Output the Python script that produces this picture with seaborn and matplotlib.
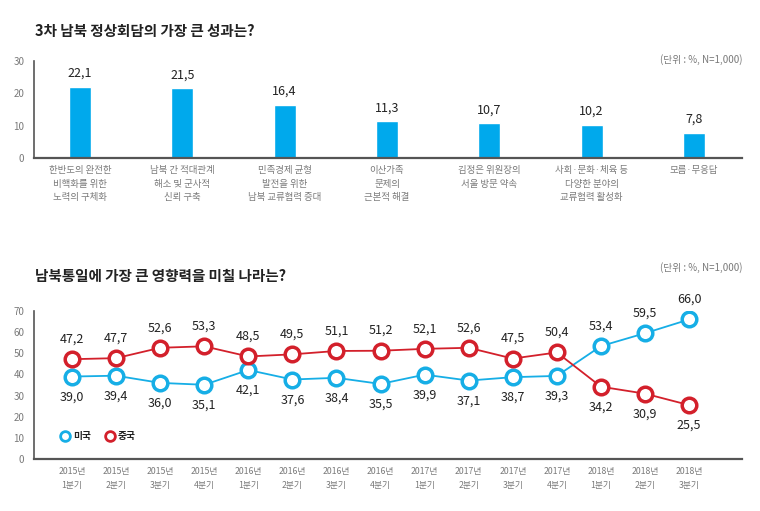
import matplotlib
matplotlib.use("Agg")
import matplotlib.pyplot as plt
import seaborn as sns
import pandas as pd
import numpy as np
from matplotlib.lines import Line2D

sns.set_theme(style="white")
plt.rcParams['font.family'] = ['Noto Sans CJK KR', 'DejaVu Sans']

# ---- data: top chart ----
top_title = "3차 남북 정상회담의 가장 큰 성과는?"
top_categories = [
    "한반도의 완전한\n비핵화를 위한\n노력의 구체화",
    "남북 간 적대관계\n해소 및 군사적\n신뢰 구축",
    "민족경제 균형\n발전을 위한\n남북 교류협력 증대",
    "이산가족\n문제의\n근본적 해결",
    "김정은 위원장의\n서울 방문 약속",
    "사회·문화·체육 등\n다양한 분야의\n교류협력 활성화",
    "모름·무응답",
]
top_values = [22.1, 21.5, 16.4, 11.3, 10.7, 10.2, 7.8]
top_yticks = [0, 10, 20, 30]

# ---- data: bottom chart ----
bottom_title = "남북통일에 가장 큰 영향력을 미칠 나라는?"
periods = ["2015년\n1분기", "2015년\n2분기", "2015년\n3분기", "2015년\n4분기",
           "2016년\n1분기", "2016년\n2분기", "2016년\n3분기", "2016년\n4분기",
           "2017년\n1분기", "2017년\n2분기", "2017년\n3분기", "2017년\n4분기",
           "2018년\n1분기", "2018년\n2분기", "2018년\n3분기"]
usa = [39.0, 39.4, 36.0, 35.1, 42.1, 37.6, 38.4, 35.5, 39.9, 37.1, 38.7, 39.3, 53.4, 59.5, 66.0]
china = [47.2, 47.7, 52.6, 53.3, 48.5, 49.5, 51.1, 51.2, 52.1, 52.6, 47.5, 50.4, 34.2, 30.9, 25.5]
bottom_yticks = [0, 10, 20, 30, 40, 50, 60, 70]
unit_text = "(단위 : %, N=1,000)"
series_names = ["미국", "중국"]

BAR_BLUE = "#00A9EC"
US_BLUE = "#16AEE6"
CN_RED = "#D3202B"
TICK_GRAY = "#7a7a7a"
TXT = "#222222"
SPINE = "#555555"

fig = plt.figure(figsize=(7.6, 5.11), dpi=100)

def fmt(v):
    return f"{v:.1f}".replace(".", ",")

# ---------------- top chart ----------------
ax1 = fig.add_axes([34/760, 1-158/511, (742-34)/760, (158-61)/511])
df_top = pd.DataFrame({"cat": top_categories, "val": top_values})
sns.barplot(data=df_top, x="cat", y="val", color=BAR_BLUE, width=0.215,
            saturation=1, ax=ax1)
ax1.set_xlim(-0.45, 6.47)
ax1.set_ylim(0, 30)
ax1.set_yticks(top_yticks)
ax1.set_xlabel("")
ax1.set_ylabel("")
for i, v in enumerate(top_values):
    ax1.annotate(fmt(v), (i, v), xytext=(0, 5), textcoords="offset points",
                 ha="center", va="bottom", fontsize=9, color=TXT)
ax1.set_xticks(range(len(top_categories)))
ax1.set_xticklabels(top_categories, fontsize=6.8, color=TICK_GRAY, linespacing=1.6, va="top")
ax1.tick_params(axis="x", length=0, pad=6)
ax1.tick_params(axis="y", length=0, pad=7, labelsize=7, labelcolor=TICK_GRAY)
for s in ["top", "right"]:
    ax1.spines[s].set_visible(False)
ax1.spines["left"].set_color(SPINE)
ax1.spines["left"].set_linewidth(1.2)
ax1.spines["bottom"].set_color(SPINE)
ax1.spines["bottom"].set_linewidth(1.6)

fig.text(35/760, 1-31/511, top_title, fontsize=10.5, fontweight="bold",
         color=TXT, va="center", ha="left")
fig.text(742/760, 1-60/511, unit_text, fontsize=7, color=TICK_GRAY,
         va="center", ha="right")

# ---------------- bottom chart ----------------
ax2 = fig.add_axes([34/760, 1-459/511, (742-34)/760, (459-311)/511])
idx = np.arange(len(periods))
df_b = pd.DataFrame({
    "idx": np.concatenate([idx, idx]),
    "val": usa + china,
    "country": [series_names[0]] * len(idx) + [series_names[1]] * len(idx),
})
sns.lineplot(data=df_b, x="idx", y="val", hue="country",
             palette={series_names[0]: US_BLUE, series_names[1]: CN_RED},
             marker="o", markersize=10.5, markerfacecolor="white",
             markeredgewidth=2.5, linewidth=1.3, legend=False, ax=ax2)
for line, col in zip(ax2.get_lines(), [US_BLUE, CN_RED]):
    line.set_markeredgecolor(col)

ax2.set_xlim(-0.862, 15.2)
ax2.set_ylim(0, 70)
ax2.set_yticks(bottom_yticks)
ax2.set_xticks(idx)
ax2.set_xticklabels(periods, fontsize=6.3, color=TICK_GRAY, linespacing=1.7)
ax2.tick_params(axis="x", length=0, pad=6)
ax2.tick_params(axis="y", length=0, pad=7, labelsize=7, labelcolor=TICK_GRAY)
ax2.set_xlabel("")
ax2.set_ylabel("")
for s in ["top", "right"]:
    ax2.spines[s].set_visible(False)
ax2.spines["left"].set_color(SPINE)
ax2.spines["left"].set_linewidth(1.2)
ax2.spines["bottom"].set_color(SPINE)
ax2.spines["bottom"].set_linewidth(1.6)

for i in idx:
    u, c = usa[i], china[i]
    u_off = 14.5 if u > c else -14.5
    c_off = 14.5 if c > u else -14.5
    ax2.annotate(fmt(u), (i, u), xytext=(0, u_off), textcoords="offset points",
                 ha="center", va="center", fontsize=9, color=TXT)
    ax2.annotate(fmt(c), (i, c), xytext=(0, c_off), textcoords="offset points",
                 ha="center", va="center", fontsize=9, color=TXT)

handles = [Line2D([], [], linestyle="none", marker="o", markersize=7,
                  markerfacecolor="white", markeredgecolor=col, markeredgewidth=2)
           for col in [US_BLUE, CN_RED]]
leg = ax2.legend(handles, series_names, loc="lower left", bbox_to_anchor=(0.025, 0.06),
                 ncol=2, frameon=False, fontsize=7, handletextpad=0.3,
                 columnspacing=1.4, handlelength=1.0)
for t in leg.get_texts():
    t.set_color(TXT)
    t.set_fontweight("bold")

fig.text(35/760, 1-276/511, bottom_title, fontsize=10.5, fontweight="bold",
         color=TXT, va="center", ha="left")
fig.text(742/760, 1-268/511, unit_text, fontsize=7, color=TICK_GRAY,
         va="center", ha="right")

fig.savefig("out.png", dpi=100, facecolor="white")
